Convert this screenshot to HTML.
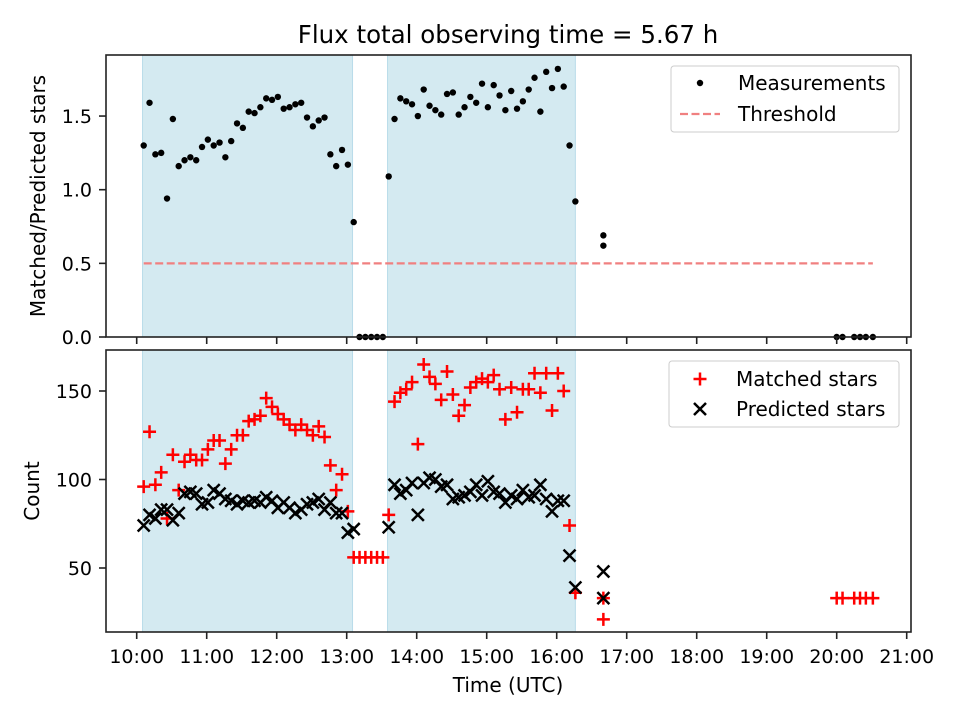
<!DOCTYPE html>
<html><head><meta charset="utf-8"><style>
body{margin:0;background:#fff}
svg{display:block;font-family:"DejaVu Sans","Liberation Sans",sans-serif}
</style></head><body>
<svg id="chart" width="960" height="720" viewBox="0 0 960 720">
<text x="508" y="43" font-size="24.5" text-anchor="middle" fill="#000">Flux total observing time = 5.67 h</text>
<g id="topPanel"></g><g id="botPanel"></g>
</svg>
<script>
const ratioTimes1 = ["10:06","10:11","10:16","10:21","10:26","10:31","10:36","10:41","10:46","10:51","10:56","11:01","11:06","11:11","11:16","11:21","11:26","11:31","11:36","11:41","11:46","11:51","11:56","12:01","12:06","12:11","12:16","12:21","12:26","12:31","12:36","12:41","12:46","12:51","12:56","13:01","13:06"];
const ratios1 = [1.30,1.59,1.24,1.25,0.94,1.48,1.16,1.20,1.22,1.20,1.29,1.34,1.30,1.32,1.22,1.33,1.45,1.42,1.53,1.52,1.56,1.62,1.61,1.63,1.55,1.56,1.58,1.59,1.49,1.43,1.47,1.49,1.24,1.16,1.27,1.17,0.78];
const matched1 = [96,127,97,104,78,114,94,110,114,111,111,117,122,122,109,117,125,125,133,134,136,146,141,137,134,131,128,131,128,125,130,124,108,94,103,82,56];
const predicted1 = [74,80,78,83,83,77,81,92,93,92,86,87,94,92,89,88,86,88,87,88,87,90,88,84,87,84,81,83,86,87,89,83,87,81,81,70,72];
const gapTimes = ["13:11","13:16","13:21","13:26","13:31"];
const gapRatios = [0,0,0,0,0];
const gapMatched = [56,56,56,56,56];
const ratioTimes2 = ["13:36","13:41","13:46","13:51","13:56","14:01","14:06","14:11","14:16","14:21","14:26","14:31","14:36","14:41","14:46","14:51","14:56","15:01","15:06","15:11","15:16","15:21","15:26","15:31","15:36","15:41","15:46","15:51","15:56","16:01","16:06","16:11","16:16","16:40","16:40"];
const ratios2 = [1.09,1.48,1.62,1.60,1.58,1.50,1.68,1.57,1.54,1.51,1.65,1.66,1.51,1.56,1.63,1.59,1.72,1.56,1.71,1.64,1.54,1.67,1.55,1.60,1.68,1.76,1.53,1.80,1.69,1.82,1.70,1.30,0.92,0.69,0.62];
const matched2 = [80,144,149,151,155,120,165,158,154,145,161,148,136,142,152,155,157,155,159,151,134,152,138,151,151,160,149,160,139,160,150,74,36,33,21];
const predicted2 = [73,97,92,94,98,80,98,101,100,96,97,89,90,91,93,97,91,99,93,92,87,91,89,94,90,91,97,89,82,88,88,57,39,48,33];
const lateTimes = ["20:00","20:05","20:15","20:20","20:25","20:31"];
const lateRatios = [0,0,0,0,0,0];
const lateMatched = [33,33,33,33,33,33];
const shadeStarts = ["10:05","13:35"];
const shadeEnds = ["13:05","16:16"];
const xTickLabels = ["10:00","11:00","12:00","13:00","14:00","15:00","16:00","17:00","18:00","19:00","20:00","21:00"];
const topTicks = [0,0.5,1.0,1.5];
const topTickLabels = ["0.0","0.5","1.0","1.5"];
const botTicks = [50,100,150];
const threshold = 0.5;

(function(){
const NS="http://www.w3.org/2000/svg";
function mk(parent,tag,attrs){const e=document.createElementNS(NS,tag);for(const k in attrs)e.setAttribute(k,attrs[k]);parent.appendChild(e);return e;}
function tmin(s){const p=s.split(":");return (+p[0]-10)*60+(+p[1]);}
const L=106,R=911;
function X(m){return 136.7+m*70/60;}
const PT={top:55,bot:337};
const PB={top:350,bot:632};
function YT(v){return 337-v*147.3;}
function YB(v){return 479.5-(v-100)*1.77;}
const gTop=document.getElementById("topPanel"),gBot=document.getElementById("botPanel");

function panel(g,P,name){
  shadeStarts.forEach((s,i)=>{
    const r=mk(g,"rect",{x:X(tmin(s)),y:P.top,width:X(tmin(shadeEnds[i]))-X(tmin(s)),height:P.bot-P.top,fill:"#d4eaf1",stroke:"#b9dcea","stroke-width":1});
    
    
  });
}
function frame(g,P,name,labels){
  const f=mk(g,"rect",{x:L,y:P.top,width:R-L,height:P.bot-P.top,fill:"none",stroke:"#222","stroke-width":1.6});
  
  
  xTickLabels.forEach((lab,i)=>{
    const x=X(i*60);
    mk(g,"line",{x1:x,x2:x,y1:P.bot,y2:P.bot+7,stroke:"#222","stroke-width":1.6});
    if(labels){
      const t=mk(g,"text",{x:x,y:P.bot+31,"font-size":19,"text-anchor":"middle"});
      t.textContent=lab;
      
      
    }
  });
}
panel(gTop,PT,"top");panel(gBot,PB,"bottom");

const th=mk(gTop,"line",{x1:X(tmin("10:06")),x2:X(tmin("20:31")),y1:YT(threshold),y2:YT(threshold),stroke:"#f08080","stroke-width":2.2,"stroke-dasharray":"8,3.5"});



function dots(times,vals){times.forEach((t,i)=>{const c=mk(gTop,"circle",{cx:X(tmin(t)),cy:YT(vals[i]),r:3.2,fill:"#000"});
  
  });}
dots(ratioTimes1,ratios1);dots(gapTimes,gapRatios);dots(ratioTimes2,ratios2);dots(lateTimes,lateRatios);

function plus(times,vals){times.forEach((t,i)=>{const x=X(tmin(t)),y=YB(vals[i]);
  const p=mk(gBot,"path",{d:`M${x-6.5} ${y}H${x+6.5}M${x} ${y-6.5}V${y+6.5}`,stroke:"#ff0000","stroke-width":2.5});
  
  });}
function cross(times,vals){times.forEach((t,i)=>{const x=X(tmin(t)),y=YB(vals[i]);
  const p=mk(gBot,"path",{d:`M${x-6} ${y-6}L${x+6} ${y+6}M${x-6} ${y+6}L${x+6} ${y-6}`,stroke:"#000","stroke-width":2.5});
  
  });}
plus(ratioTimes1,matched1);plus(gapTimes,gapMatched);plus(ratioTimes2,matched2);plus(lateTimes,lateMatched);
cross(ratioTimes1,predicted1);cross(ratioTimes2,predicted2);

frame(gTop,PT,"top",false);frame(gBot,PB,"bottom",true);

topTicks.forEach((v,i)=>{const y=YT(v);mk(gTop,"line",{x1:L-7,x2:L,y1:y,y2:y,stroke:"#222","stroke-width":1.6});
  const t=mk(gTop,"text",{x:L-14,y:y+7,"font-size":19,"text-anchor":"end"});t.textContent=topTickLabels[i];
  
  });
botTicks.forEach(v=>{const y=YB(v);mk(gBot,"line",{x1:L-7,x2:L,y1:y,y2:y,stroke:"#222","stroke-width":1.6});
  const t=mk(gBot,"text",{x:L-14,y:y+7,"font-size":19,"text-anchor":"end"});t.textContent=String(v);
  
  });
})();
</script>
<svg width="960" height="720" style="position:absolute;left:0;top:0;font-family:'DejaVu Sans','Liberation Sans',sans-serif">
<text transform="translate(45,196) rotate(-90)" font-size="20" text-anchor="middle">Matched/Predicted stars</text>
<text transform="translate(39,491) rotate(-90)" font-size="20" text-anchor="middle">Count</text>
<text x="508" y="692" font-size="20" text-anchor="middle">Time (UTC)</text>
<g>
<rect x="671" y="66" width="228" height="66" rx="3" fill="#fff" fill-opacity="0.8" stroke="#ccc"/>
<circle cx="700" cy="83" r="3.2" fill="#000"/>
<text x="738" y="90" font-size="20">Measurements</text>
<line x1="680" x2="720" y1="114" y2="114" stroke="#f08080" stroke-width="2.2" stroke-dasharray="8,3.5"/>
<text x="738" y="121" font-size="20">Threshold</text>
</g>
<g>
<rect x="669" y="361" width="230" height="66" rx="3" fill="#fff" fill-opacity="0.8" stroke="#ccc"/>
<path d="M693.5 379H706.5M700 372.5V385.5" stroke="#ff0000" stroke-width="2.5"/>
<text x="736" y="386" font-size="20">Matched stars</text>
<path d="M694 403L706 415M694 415L706 403" stroke="#000" stroke-width="2.5"/>
<text x="736" y="416" font-size="20">Predicted stars</text>
</g>
</svg>
</body></html>
